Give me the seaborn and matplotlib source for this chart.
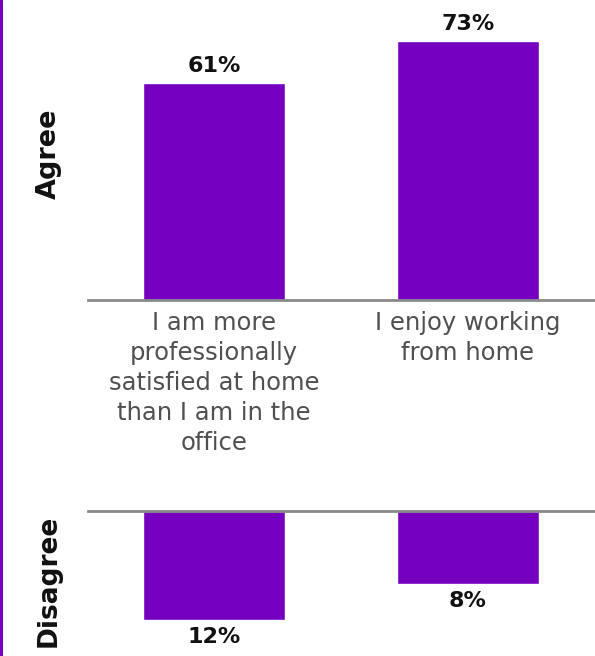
import matplotlib
matplotlib.use("Agg")
import matplotlib.pyplot as plt
import seaborn as sns
import pandas as pd

# Survey statements and response shares (%)
statements = [
    "I am more\nprofessionally\nsatisfied at home\nthan I am in the\noffice",
    "I enjoy working\nfrom home",
]
agree = [61, 73]
disagree = [12, 8]

PURPLE = "#7500C0"
BASE_GREY = "#8a8a8a"
TEXT_GREY = "#505050"

sns.set_theme(style="white")
plt.rcParams["font.family"] = ["DejaVu Sans"]

W, H = 595, 656
fig = plt.figure(figsize=(W / 100, H / 100), dpi=100)


def px_rect(left, top, right, bottom):
    return [left / W, 1 - bottom / H, (right - left) / W, (bottom - top) / H]


df_agree = pd.DataFrame({"statement": statements, "value": agree})
df_dis = pd.DataFrame({"statement": statements, "value": [-v for v in disagree]})

# Agree panel
ax1 = fig.add_axes(px_rect(88, 0, 595, 300))
sns.barplot(data=df_agree, x="statement", y="value", color=PURPLE,
            saturation=1, width=0.56, ax=ax1)
ax1.set_xlim(-0.496, 1.5)
ax1.set_ylim(0, 84.5)
ax1.bar_label(ax1.containers[0], labels=[f"{v}%" for v in agree],
              padding=5, fontsize=16, fontweight="bold", color="#111111")
ax1.set_xticks(range(len(statements)))
ax1.set_xticklabels(statements, fontsize=17.5, color=TEXT_GREY,
                    linespacing=1.31, va="top")
ax1.tick_params(axis="x", length=0, pad=8)
ax1.set_yticks([])
ax1.set_xlabel("")
ax1.set_ylabel("")
for side in ["top", "right", "left"]:
    ax1.spines[side].set_visible(False)
ax1.spines["bottom"].set_color(BASE_GREY)
ax1.spines["bottom"].set_linewidth(2)

# Disagree panel
ax2 = fig.add_axes(px_rect(88, 511, 595, 656))
sns.barplot(data=df_dis, x="statement", y="value", color=PURPLE,
            saturation=1, width=0.56, ax=ax2)
ax2.set_xlim(-0.496, 1.5)
ax2.set_ylim(-15.9, 0)
ax2.bar_label(ax2.containers[0], labels=[f"{v}%" for v in disagree],
              padding=5, fontsize=16, fontweight="bold", color="#111111")
ax2.set_xticks([])
ax2.set_yticks([])
ax2.set_xlabel("")
ax2.set_ylabel("")
for side in ["bottom", "right", "left"]:
    ax2.spines[side].set_visible(False)
ax2.spines["top"].set_color(BASE_GREY)
ax2.spines["top"].set_linewidth(2)

# Side labels
fig.text(49 / W, 1 - 154 / H, "Agree", rotation=90, ha="center", va="center",
         fontsize=19.5, fontweight="bold", color="#111111")
fig.text(49 / W, 1 - 581 / H, "Disagree", rotation=90, ha="center", va="center",
         fontsize=19, fontweight="bold", color="#111111")

# Accent rule along the left edge
fig.add_artist(plt.Line2D([1.2 / W, 1.2 / W], [0, 1], color=PURPLE,
                          linewidth=2.2, transform=fig.transFigure))

fig.savefig("out.png", dpi=100, facecolor="white")
